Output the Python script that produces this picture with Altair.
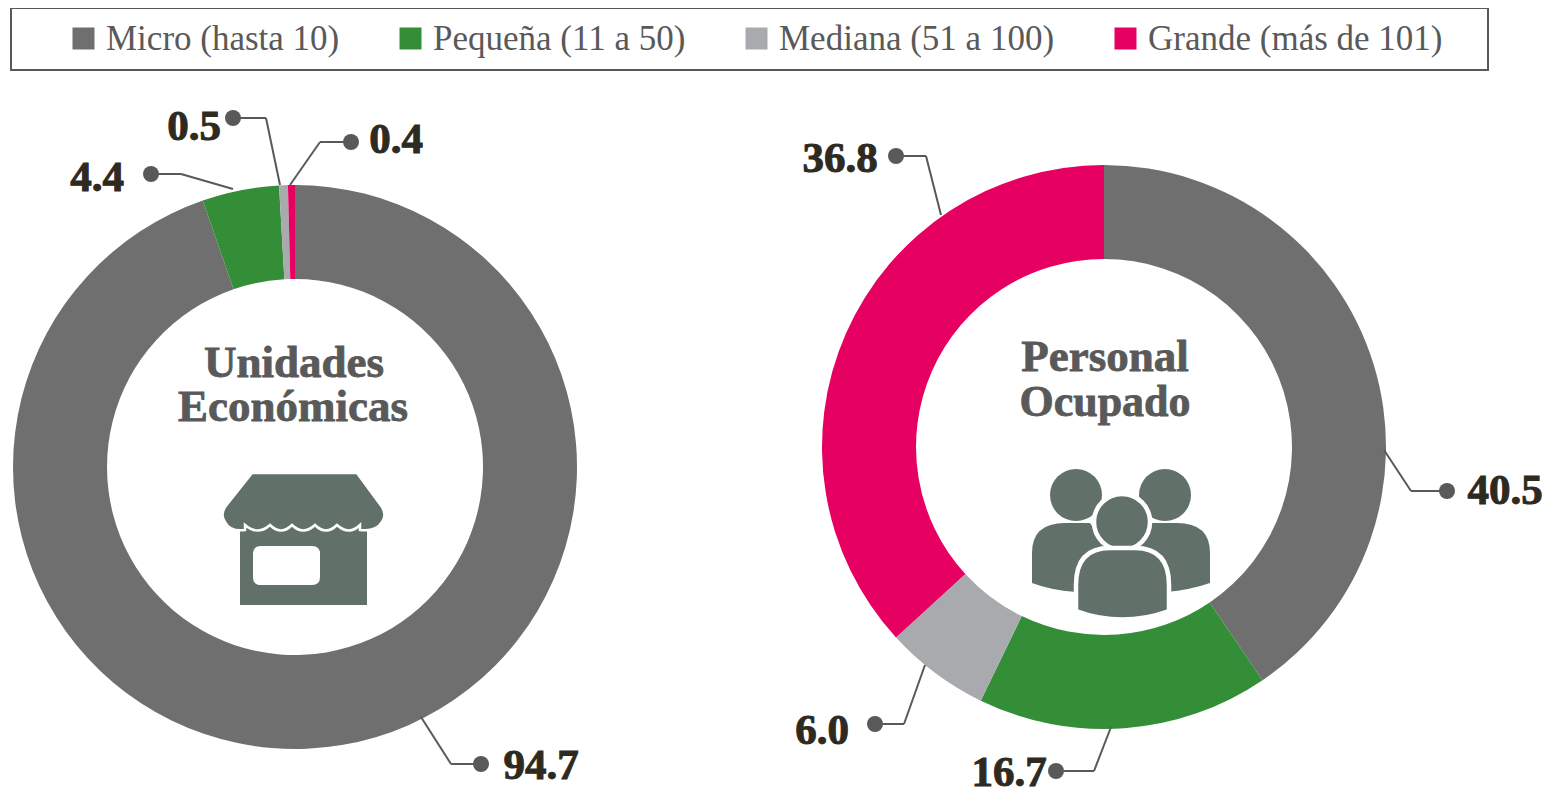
import altair as alt
import pandas as pd

categories = ["Micro (hasta 10)", "Pequeña (11 a 50)", "Mediana (51 a 100)", "Grande (más de 101)"]
colors = ["#6f6f6f", "#348e38", "#a9aaad", "#e60061"]
unidades = [94.7, 4.4, 0.5, 0.4]
personal = [40.5, 16.7, 6.0, 36.8]

SERIF = "Liberation Serif"
LINE = "#595959"
ICON = "#61716a"
NUM = "#2e2a1f"
OFF = 8  # page margin: all annotation positions below are page pixels


def px(v):
    return alt.value(v - OFF)


one = alt.Data(values=[{"a": 1}])


def donut(values, cx, cy, legend):
    df = pd.DataFrame({"cat": categories, "v": values, "o": range(4)})
    return alt.Chart(df).mark_arc(innerRadius=188, outerRadius=282).encode(
        theta=alt.Theta("v:Q", stack=True, scale=alt.Scale(domain=[0, 100])),
        order=alt.Order("o:Q"),
        color=alt.Color("cat:N", scale=alt.Scale(domain=categories, range=colors), legend=legend),
        x=px(cx), y=px(cy),
    )


def leader(pts):
    out = []
    for (x1, y1), (x2, y2) in zip(pts[:-1], pts[1:]):
        out.append(alt.Chart(one).mark_rule(color=LINE, strokeWidth=2).encode(
            x=px(x1), y=px(y1), x2=px(x2), y2=px(y2)))
    dx, dy = pts[-1]
    out.append(alt.Chart(one).mark_point(shape="circle", filled=True, size=256, color=LINE, opacity=1).encode(
        x=px(dx), y=px(dy)))
    return out


def label(txt, x, y, size=43, color=NUM, stroke=1.0):
    return alt.Chart(one).mark_text(text=txt, font=SERIF, fontWeight="bold", fontSize=size, color=color,
                                    align="center", baseline="alphabetic",
                                    stroke=color, strokeWidth=stroke).encode(x=px(x), y=px(y))


def shape(path, fill, stroke=None, sw=0):
    kw = dict(stroke=stroke, strokeWidth=sw) if stroke else dict(strokeWidth=0)
    return alt.Chart(one).mark_point(shape=path, size=4, filled=True, fill=fill, opacity=1, **kw).encode(
        x=alt.value(-OFF), y=alt.value(-OFF))


def circle(cx, cy, r, fill, stroke=None, sw=0):
    kw = dict(stroke=stroke, strokeWidth=sw) if stroke else dict(strokeWidth=0)
    return alt.Chart(one).mark_point(shape="circle", size=(2 * r) ** 2, filled=True, fill=fill, opacity=1, **kw).encode(
        x=px(cx), y=px(cy))


legend = alt.Legend(
    title=None, orient="none", legendX=66 - OFF, legendY=13, direction="horizontal",
    symbolType="square", symbolSize=484, symbolStrokeWidth=0, symbolOpacity=1,
    labelFont=SERIF, labelFontSize=35, labelColor=LINE, labelOffset=5, labelLimit=500,
    columnPadding=53, gridAlign="none", padding=0,
)

box = alt.Chart(one).mark_rect(fill="white", fillOpacity=0, stroke=LINE, strokeWidth=2).encode(
    x=px(11), x2=px(1488), y=px(8), y2=px(70))

store_body = "M240 525H367V605H240Z"
store_roof = ("M252 473H357L382 507Q387 515 382 522Q376 532 360 530L360 525Q349 536 337 525Q326 536 315 525"
              "Q303 536 292 525Q281 536 270 525Q258 536 245 525L245 530Q230 532 225 522Q220 515 225 507Z")
store_window = "M261 546H312Q320 546 320 554V577Q320 585 312 585H261Q253 585 253 577V554Q253 546 261 546Z"

people_left = "M1032 583V553Q1032 523 1065 523H1090L1115 560L1076 592Q1050 590 1032 583Z"
people_right = "M1210 583V553Q1210 523 1177 523H1152L1127 560L1166 592Q1190 590 1210 583Z"
people_mid = "M1076 611V585Q1076 548 1110 548H1135Q1169 548 1169 585V611Q1122 628 1076 611Z"

layers = [
    box,
    donut(unidades, 295, 467, legend),
    donut(personal, 1104, 447, legend),
]

for pts in [
    [(421, 717), (451, 764), (481, 764)],
    [(233, 189), (181, 174), (151, 174)],
    [(280, 185), (266, 118), (233, 118)],
    [(290, 185), (320, 142), (351, 142)],
    [(1384, 450), (1411, 491), (1447, 491)],
    [(1111, 727), (1094, 771), (1056, 771)],
    [(925, 665), (904, 724), (875, 724)],
    [(941, 215), (926, 156), (896, 156)],
]:
    layers += leader(pts)

layers += [
    label(f"{unidades[0]:.1f}", 541, 779),
    label(f"{unidades[1]:.1f}", 97, 191),
    label(f"{unidades[2]:.1f}", 194, 140),
    label(f"{unidades[3]:.1f}", 396, 153),
    label(f"{personal[0]:.1f}", 1505, 504),
    label(f"{personal[1]:.1f}", 1009, 786),
    label(f"{personal[2]:.1f}", 822, 744),
    label(f"{personal[3]:.1f}", 840, 172),
    label("Unidades", 294, 377, 45, LINE, 0.8),
    label("Económicas", 293, 421, 45, LINE, 0.8),
    label("Personal", 1105, 371, 45, LINE, 0.8),
    label("Ocupado", 1105, 416, 44, LINE, 0.8),
    shape(store_body, ICON),
    shape(store_window, "white"),
    shape(store_roof, ICON, "white", 2.5),
    shape(people_left, ICON),
    shape(people_right, ICON),
    circle(1076, 495, 26, ICON),
    circle(1165, 495, 26, ICON),
    circle(1122, 522, 28, ICON, "white", 4.5),
    shape(people_mid, ICON, "white", 4.5),
]

chart = alt.layer(*layers).resolve_scale(theta="shared", color="shared").properties(
    width=1538, height=781, padding=0, autosize=alt.AutoSizeParams(type="none"), background="white",
).configure_view(stroke=None)

chart.save("out.html", embed_options={"renderer": "svg", "actions": False})
